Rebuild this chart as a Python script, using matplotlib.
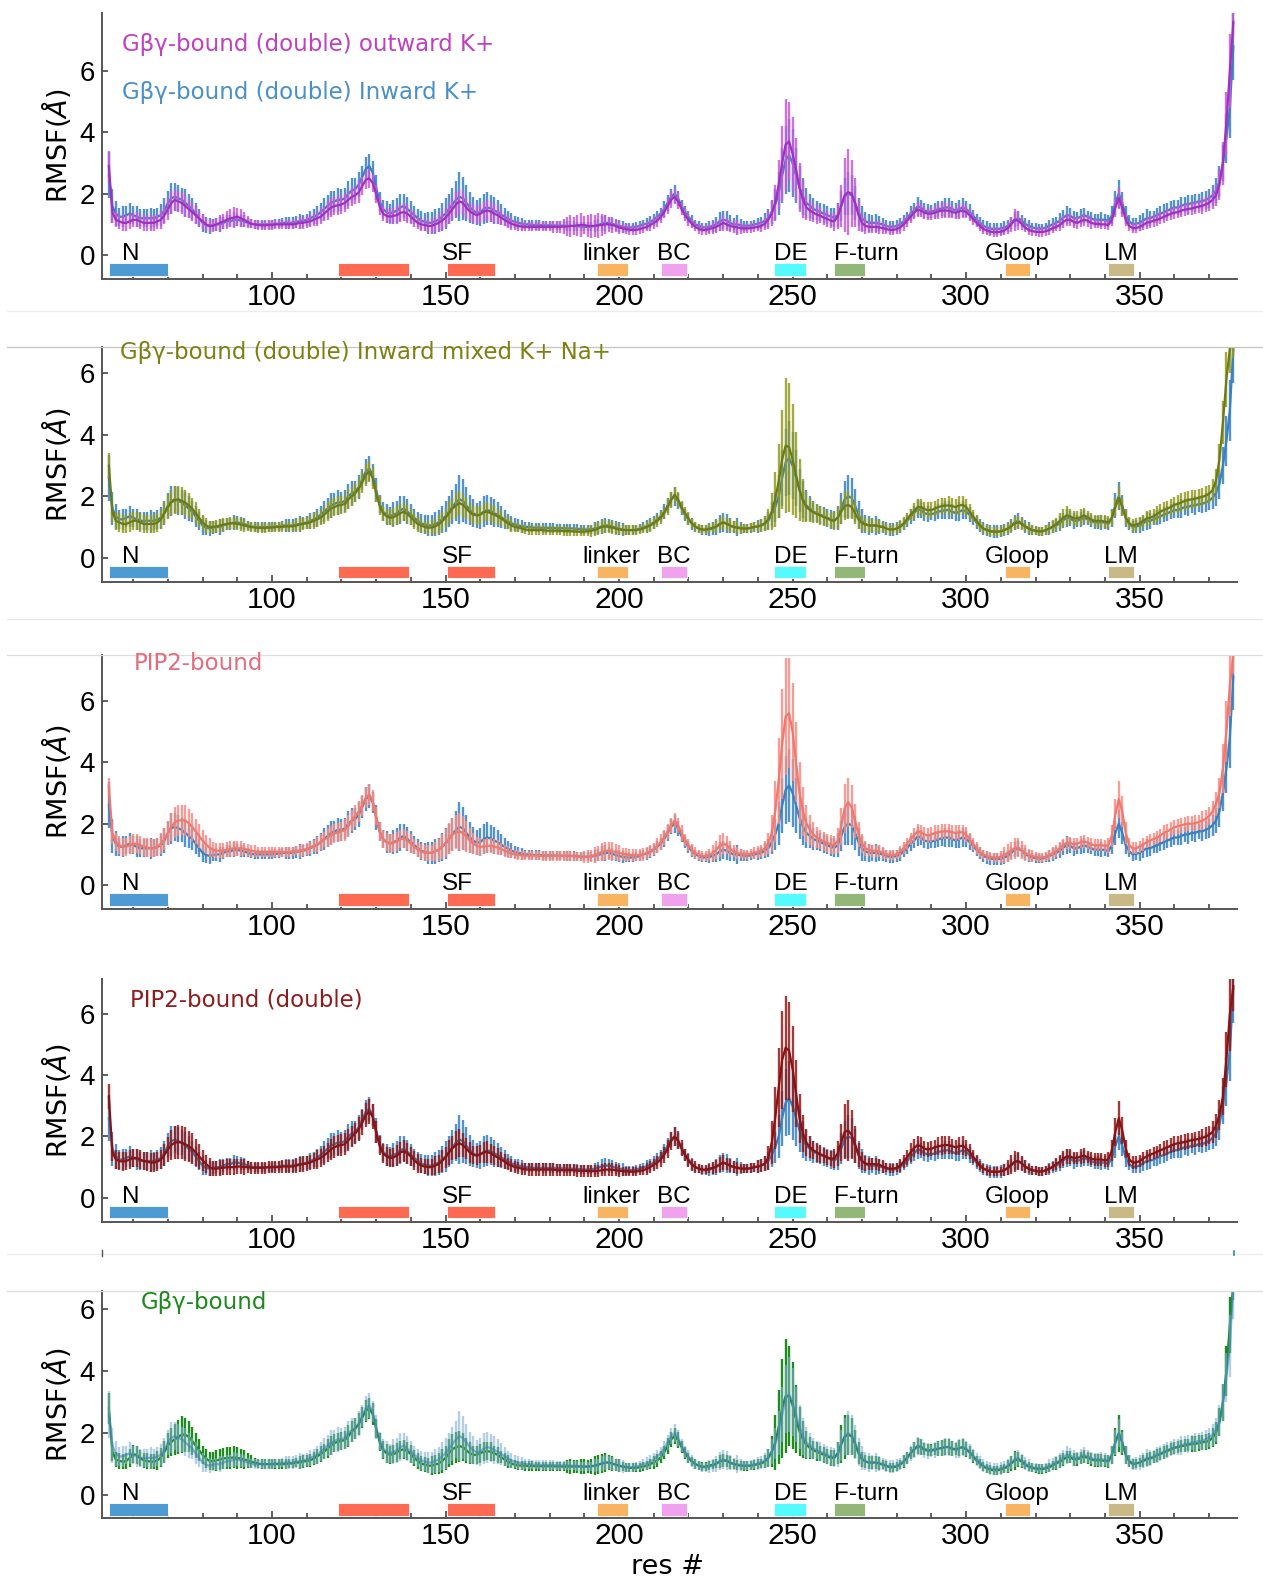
import numpy as np
import matplotlib
matplotlib.use('Agg')
import matplotlib.pyplot as plt
from matplotlib.lines import Line2D

plt.rcParams['font.family'] = ['DejaVu Sans']

W, H = 1263, 1580
RES_START = 53

# ---------------- data (RMSF mean and error per residue, starting at residue 53) ----------------
inward_k = [
 2.6,1.6,1.35,1.25,1.25,1.3,1.35,1.3,1.25,1.2,
 1.2,1.2,1.2,1.2,1.25,1.3,1.45,1.7,1.85,1.9,
 1.85,1.8,1.7,1.6,1.5,1.35,1.2,1.05,0.98,0.95,
 0.98,1.0,1.0,1.05,1.1,1.1,1.15,1.15,1.12,1.1,
 1.05,1.02,1.0,1.0,1.0,1.0,1.0,1.0,1.02,1.02,
 1.05,1.05,1.05,1.05,1.08,1.1,1.12,1.15,1.2,1.25,
 1.3,1.4,1.5,1.6,1.7,1.75,1.8,1.8,1.85,2.0,
 2.1,2.15,2.3,2.55,2.8,2.9,2.7,2.2,1.75,1.5,
 1.4,1.35,1.4,1.45,1.55,1.6,1.5,1.4,1.3,1.2,
 1.12,1.08,1.05,1.05,1.1,1.15,1.25,1.35,1.5,1.65,
 1.8,1.9,1.85,1.7,1.55,1.45,1.38,1.4,1.5,1.55,
 1.52,1.45,1.4,1.32,1.25,1.18,1.12,1.08,1.05,1.02,
 1.0,1.0,0.98,0.98,0.98,0.97,0.97,0.97,0.97,0.96,
 0.96,0.96,0.95,0.95,0.95,0.94,0.93,0.92,0.92,0.93,
 0.95,0.98,1.02,1.05,1.05,1.02,0.98,0.95,0.92,0.9,
 0.9,0.9,0.92,0.95,1.0,1.02,1.08,1.15,1.25,1.35,
 1.5,1.7,1.9,2.0,1.85,1.6,1.4,1.25,1.1,1.0,
 0.95,0.9,0.9,0.92,0.95,1.0,1.1,1.15,1.12,1.05,
 1.0,1.0,0.97,0.95,0.95,0.97,1.0,1.02,1.05,1.12,
 1.2,1.4,1.65,2.0,2.6,3.1,3.25,3.0,2.6,2.2,
 1.9,1.7,1.6,1.5,1.45,1.4,1.35,1.3,1.25,1.22,
 1.3,1.6,1.9,2.0,1.95,1.7,1.4,1.2,1.1,1.05,
 1.05,1.05,1.02,1.0,0.95,0.92,0.92,0.95,1.0,1.1,
 1.2,1.35,1.45,1.58,1.55,1.45,1.42,1.42,1.45,1.5,
 1.52,1.55,1.55,1.5,1.45,1.5,1.55,1.5,1.4,1.28,
 1.15,1.05,0.95,0.9,0.86,0.85,0.85,0.86,0.9,0.95,
 1.05,1.15,1.2,1.12,1.02,0.95,0.9,0.88,0.86,0.86,
 0.9,0.95,1.0,1.05,1.12,1.22,1.3,1.28,1.2,1.2,
 1.25,1.3,1.25,1.2,1.15,1.15,1.15,1.15,1.1,1.3,
 1.7,2.0,1.7,1.3,1.1,1.0,1.02,1.05,1.12,1.2,
 1.2,1.25,1.3,1.35,1.4,1.45,1.5,1.55,1.55,1.6,
 1.65,1.65,1.7,1.7,1.75,1.75,1.8,1.85,1.95,2.1,
 2.4,3.0,3.8,4.8,6.8]
inward_k_err = [
 0.75,0.55,0.4,0.3,0.35,0.3,0.35,0.3,0.35,0.3,
 0.3,0.3,0.35,0.3,0.3,0.35,0.4,0.4,0.5,0.45,
 0.45,0.4,0.45,0.4,0.35,0.35,0.3,0.3,0.25,0.25,
 0.2,0.2,0.25,0.2,0.2,0.2,0.25,0.2,0.2,0.2,
 0.15,0.15,0.15,0.15,0.15,0.15,0.15,0.15,0.15,0.15,
 0.15,0.2,0.2,0.2,0.2,0.25,0.2,0.2,0.25,0.25,
 0.3,0.3,0.35,0.35,0.4,0.35,0.4,0.35,0.35,0.4,
 0.4,0.35,0.4,0.35,0.4,0.4,0.35,0.4,0.3,0.3,
 0.35,0.3,0.4,0.4,0.45,0.4,0.4,0.35,0.3,0.3,
 0.3,0.3,0.35,0.35,0.4,0.4,0.45,0.5,0.5,0.55,
 0.6,0.8,0.7,0.6,0.5,0.45,0.4,0.45,0.5,0.5,
 0.45,0.45,0.4,0.35,0.3,0.25,0.25,0.2,0.2,0.2,
 0.15,0.15,0.15,0.15,0.15,0.15,0.15,0.15,0.15,0.15,
 0.15,0.15,0.15,0.15,0.15,0.15,0.15,0.15,0.15,0.15,
 0.2,0.2,0.25,0.25,0.2,0.2,0.2,0.2,0.2,0.15,
 0.15,0.15,0.15,0.15,0.15,0.2,0.2,0.2,0.2,0.2,
 0.25,0.25,0.25,0.3,0.25,0.2,0.2,0.2,0.2,0.15,
 0.15,0.15,0.15,0.2,0.2,0.25,0.3,0.3,0.3,0.25,
 0.2,0.3,0.2,0.15,0.15,0.15,0.15,0.2,0.2,0.25,
 0.3,0.4,0.5,0.7,0.9,1.1,1.2,1.1,0.9,0.7,
 0.6,0.5,0.4,0.35,0.3,0.3,0.3,0.3,0.3,0.3,
 0.4,0.5,0.6,0.7,0.65,0.55,0.45,0.4,0.3,0.3,
 0.25,0.3,0.25,0.2,0.2,0.2,0.2,0.2,0.2,0.2,
 0.2,0.25,0.25,0.3,0.25,0.25,0.25,0.2,0.25,0.25,
 0.25,0.3,0.3,0.25,0.25,0.3,0.3,0.25,0.25,0.2,
 0.2,0.2,0.2,0.2,0.2,0.2,0.2,0.2,0.2,0.2,
 0.2,0.25,0.25,0.2,0.2,0.2,0.15,0.15,0.15,0.15,
 0.15,0.2,0.2,0.2,0.25,0.25,0.3,0.25,0.25,0.2,
 0.25,0.25,0.2,0.2,0.2,0.2,0.25,0.2,0.2,0.3,
 0.4,0.45,0.35,0.3,0.2,0.2,0.2,0.25,0.25,0.3,
 0.25,0.2,0.25,0.25,0.25,0.25,0.25,0.25,0.25,0.3,
 0.25,0.3,0.25,0.3,0.25,0.3,0.3,0.3,0.35,0.4,
 0.5,0.6,0.8,1.0,1.1]

outward_k = [
 2.9,1.4,1.15,1.1,1.05,1.05,1.1,1.15,1.15,1.1,
 1.05,1.05,1.05,1.05,1.1,1.15,1.3,1.5,1.7,1.8,
 1.75,1.7,1.6,1.5,1.4,1.3,1.2,1.1,1.0,0.95,
 0.95,1.0,1.05,1.1,1.15,1.2,1.22,1.25,1.2,1.15,
 1.08,1.02,1.0,0.98,0.97,0.97,0.98,0.98,1.0,1.0,
 1.0,1.0,1.0,1.0,1.02,1.05,1.05,1.08,1.1,1.15,
 1.2,1.25,1.35,1.45,1.55,1.6,1.62,1.65,1.7,1.8,
 1.9,1.95,2.05,2.25,2.45,2.5,2.35,2.0,1.6,1.35,
 1.28,1.25,1.28,1.3,1.38,1.4,1.35,1.25,1.15,1.05,
 1.0,0.98,0.95,0.95,1.0,1.05,1.12,1.22,1.35,1.5,
 1.65,1.75,1.7,1.55,1.42,1.35,1.3,1.35,1.42,1.45,
 1.42,1.35,1.3,1.22,1.15,1.08,1.02,0.98,0.95,0.93,
 0.92,0.92,0.92,0.92,0.92,0.92,0.92,0.92,0.92,0.92,
 0.92,0.93,0.93,0.95,0.95,0.97,0.98,0.98,0.95,0.95,
 0.95,0.97,0.98,1.0,1.0,0.98,0.95,0.9,0.87,0.85,
 0.82,0.82,0.82,0.85,0.88,0.92,0.98,1.05,1.12,1.25,
 1.4,1.6,1.8,1.9,1.75,1.5,1.3,1.15,1.02,0.92,
 0.85,0.82,0.82,0.85,0.88,0.92,0.98,1.05,1.0,0.95,
 0.92,0.9,0.88,0.87,0.87,0.88,0.9,0.92,0.95,1.02,
 1.15,1.35,1.7,2.3,3.0,3.6,3.7,3.3,2.8,2.2,
 1.8,1.55,1.45,1.38,1.32,1.28,1.22,1.18,1.12,1.1,
 1.25,1.6,1.95,2.05,2.0,1.7,1.3,1.05,0.95,0.92,
 0.92,0.92,0.9,0.88,0.85,0.82,0.82,0.85,0.9,1.0,
 1.12,1.25,1.38,1.48,1.45,1.38,1.35,1.35,1.38,1.42,
 1.45,1.45,1.45,1.4,1.38,1.42,1.45,1.4,1.3,1.18,
 1.05,0.95,0.85,0.8,0.76,0.75,0.75,0.76,0.8,0.88,
 1.0,1.15,1.12,1.02,0.9,0.82,0.78,0.76,0.75,0.75,
 0.78,0.82,0.88,0.92,0.98,1.08,1.15,1.15,1.08,1.05,
 1.1,1.15,1.12,1.05,1.02,1.02,1.0,1.0,0.98,1.15,
 1.55,1.85,1.55,1.15,0.95,0.88,0.88,0.92,0.98,1.05,
 1.08,1.12,1.15,1.2,1.25,1.3,1.35,1.38,1.4,1.45,
 1.48,1.5,1.52,1.55,1.58,1.6,1.65,1.7,1.8,1.95,
 2.3,3.0,4.3,6.0,7.6]
outward_k_err = [
 0.5,0.35,0.25,0.25,0.25,0.25,0.25,0.25,0.25,0.25,
 0.25,0.25,0.25,0.25,0.25,0.3,0.3,0.35,0.35,0.35,
 0.35,0.35,0.35,0.3,0.3,0.3,0.25,0.25,0.2,0.2,
 0.2,0.2,0.25,0.25,0.3,0.3,0.35,0.3,0.3,0.25,
 0.2,0.15,0.15,0.15,0.15,0.15,0.15,0.15,0.15,0.15,
 0.15,0.15,0.15,0.15,0.15,0.2,0.2,0.2,0.2,0.2,
 0.25,0.25,0.25,0.3,0.3,0.3,0.3,0.3,0.3,0.3,
 0.3,0.3,0.35,0.3,0.3,0.3,0.3,0.3,0.3,0.25,
 0.25,0.25,0.25,0.3,0.3,0.3,0.3,0.25,0.25,0.2,
 0.2,0.2,0.2,0.25,0.25,0.3,0.3,0.3,0.35,0.35,
 0.4,0.4,0.4,0.35,0.3,0.3,0.3,0.3,0.3,0.35,
 0.35,0.3,0.3,0.25,0.2,0.2,0.2,0.15,0.15,0.15,
 0.15,0.15,0.15,0.15,0.15,0.15,0.15,0.15,0.2,0.2,
 0.2,0.25,0.3,0.35,0.3,0.35,0.4,0.3,0.35,0.4,
 0.35,0.4,0.35,0.3,0.25,0.25,0.2,0.2,0.15,0.15,
 0.15,0.15,0.15,0.15,0.15,0.15,0.2,0.2,0.2,0.2,
 0.2,0.25,0.25,0.25,0.25,0.2,0.2,0.2,0.15,0.15,
 0.15,0.15,0.15,0.15,0.2,0.2,0.2,0.25,0.2,0.2,
 0.2,0.25,0.2,0.15,0.15,0.15,0.15,0.15,0.2,0.2,
 0.3,0.4,0.6,0.8,1.2,1.5,1.3,1.2,1.0,0.8,
 0.6,0.4,0.35,0.3,0.3,0.25,0.25,0.25,0.25,0.3,
 0.4,0.7,1.2,1.4,1.1,0.8,0.5,0.3,0.25,0.2,
 0.2,0.2,0.2,0.2,0.15,0.15,0.15,0.15,0.2,0.2,
 0.2,0.2,0.2,0.25,0.2,0.2,0.2,0.2,0.2,0.25,
 0.25,0.25,0.25,0.2,0.2,0.25,0.25,0.2,0.2,0.2,
 0.15,0.15,0.15,0.15,0.15,0.15,0.15,0.15,0.15,0.2,
 0.25,0.35,0.3,0.2,0.15,0.15,0.15,0.15,0.15,0.15,
 0.15,0.15,0.15,0.15,0.2,0.2,0.2,0.2,0.2,0.2,
 0.2,0.2,0.2,0.2,0.15,0.15,0.15,0.15,0.15,0.2,
 0.3,0.35,0.3,0.2,0.15,0.15,0.15,0.15,0.15,0.2,
 0.2,0.2,0.2,0.2,0.2,0.2,0.2,0.2,0.2,0.2,
 0.2,0.2,0.2,0.2,0.2,0.25,0.25,0.25,0.3,0.35,
 0.5,0.7,1.0,1.2,0.5]

mixed_kna = [
 3.0,1.5,1.2,1.15,1.1,1.1,1.15,1.2,1.2,1.15,
 1.1,1.1,1.1,1.1,1.15,1.25,1.45,1.65,1.8,1.88,
 1.9,1.85,1.8,1.7,1.6,1.45,1.3,1.15,1.05,1.0,
 1.0,1.02,1.05,1.08,1.1,1.12,1.12,1.1,1.08,1.05,
 1.02,1.0,0.98,0.97,0.97,0.97,0.98,0.98,1.0,1.0,
 1.0,1.02,1.02,1.02,1.05,1.08,1.1,1.12,1.15,1.2,
 1.25,1.3,1.4,1.5,1.6,1.65,1.7,1.72,1.75,1.9,
 2.0,2.1,2.25,2.45,2.7,2.8,2.6,2.1,1.7,1.45,
 1.35,1.3,1.32,1.38,1.45,1.5,1.42,1.32,1.2,1.1,
 1.05,1.0,0.98,0.98,1.02,1.08,1.18,1.3,1.45,1.6,
 1.7,1.78,1.72,1.6,1.48,1.4,1.38,1.4,1.48,1.5,
 1.45,1.4,1.35,1.28,1.2,1.12,1.05,1.0,0.98,0.95,
 0.92,0.9,0.9,0.9,0.9,0.9,0.88,0.88,0.88,0.88,
 0.88,0.87,0.87,0.86,0.86,0.85,0.85,0.85,0.86,0.88,
 0.9,0.95,1.0,1.02,1.0,0.98,0.95,0.92,0.9,0.9,
 0.9,0.9,0.9,0.92,0.95,1.0,1.05,1.12,1.2,1.3,
 1.45,1.65,1.88,2.05,1.9,1.65,1.45,1.28,1.12,1.02,
 0.95,0.92,0.92,0.95,0.98,1.02,1.1,1.15,1.1,1.05,
 1.0,0.98,0.95,0.95,0.95,0.98,1.0,1.02,1.05,1.12,
 1.25,1.5,1.9,2.5,3.2,3.65,3.6,3.2,2.7,2.2,
 1.85,1.65,1.55,1.48,1.42,1.38,1.32,1.28,1.22,1.2,
 1.3,1.5,1.68,1.72,1.65,1.45,1.25,1.12,1.08,1.05,
 1.05,1.05,1.02,1.0,0.95,0.92,0.92,0.95,1.02,1.12,
 1.25,1.4,1.52,1.65,1.65,1.58,1.55,1.55,1.6,1.65,
 1.68,1.7,1.7,1.68,1.65,1.7,1.72,1.65,1.5,1.35,
 1.2,1.05,0.95,0.9,0.86,0.85,0.85,0.86,0.9,0.95,
 1.02,1.12,1.15,1.1,1.02,0.95,0.9,0.88,0.86,0.86,
 0.9,0.95,1.02,1.1,1.2,1.3,1.38,1.35,1.28,1.28,
 1.32,1.38,1.32,1.25,1.2,1.2,1.2,1.18,1.15,1.3,
 1.65,1.95,1.65,1.3,1.12,1.05,1.08,1.12,1.2,1.28,
 1.3,1.35,1.42,1.5,1.55,1.6,1.65,1.72,1.75,1.8,
 1.85,1.88,1.9,1.92,1.95,1.98,2.02,2.08,2.2,2.5,
 3.2,4.4,5.8,6.8,7.0]
mixed_kna_err = [
 0.4,0.35,0.3,0.3,0.3,0.3,0.3,0.3,0.3,0.3,
 0.3,0.3,0.3,0.3,0.3,0.3,0.35,0.4,0.4,0.45,
 0.45,0.45,0.4,0.4,0.35,0.35,0.3,0.25,0.25,0.2,
 0.2,0.2,0.2,0.2,0.2,0.2,0.2,0.2,0.2,0.2,
 0.15,0.15,0.15,0.15,0.15,0.15,0.15,0.15,0.15,0.15,
 0.15,0.15,0.15,0.15,0.2,0.2,0.2,0.2,0.2,0.25,
 0.25,0.25,0.3,0.3,0.3,0.3,0.3,0.3,0.3,0.3,
 0.3,0.3,0.3,0.35,0.35,0.35,0.35,0.3,0.3,0.25,
 0.25,0.25,0.3,0.3,0.3,0.3,0.3,0.25,0.25,0.25,
 0.2,0.2,0.2,0.25,0.25,0.3,0.3,0.3,0.35,0.35,
 0.4,0.4,0.4,0.35,0.3,0.3,0.3,0.3,0.3,0.3,
 0.3,0.3,0.25,0.25,0.2,0.2,0.2,0.15,0.15,0.15,
 0.15,0.15,0.15,0.15,0.15,0.15,0.15,0.15,0.15,0.15,
 0.15,0.15,0.15,0.15,0.15,0.15,0.15,0.15,0.15,0.2,
 0.2,0.2,0.2,0.2,0.2,0.2,0.2,0.15,0.15,0.15,
 0.15,0.15,0.15,0.15,0.15,0.15,0.2,0.2,0.2,0.2,
 0.2,0.25,0.25,0.25,0.25,0.2,0.2,0.2,0.15,0.15,
 0.15,0.15,0.15,0.15,0.15,0.2,0.2,0.2,0.2,0.2,
 0.2,0.2,0.15,0.15,0.15,0.15,0.15,0.15,0.2,0.25,
 0.35,0.6,0.9,1.2,1.6,2.2,2.1,1.8,1.4,1.0,
 0.7,0.5,0.4,0.35,0.3,0.3,0.3,0.25,0.25,0.3,
 0.35,0.4,0.45,0.45,0.4,0.35,0.3,0.25,0.2,0.2,
 0.2,0.2,0.2,0.15,0.15,0.15,0.15,0.15,0.2,0.2,
 0.2,0.2,0.25,0.25,0.25,0.25,0.25,0.25,0.25,0.25,
 0.25,0.25,0.3,0.25,0.25,0.3,0.3,0.25,0.25,0.2,
 0.2,0.15,0.15,0.15,0.15,0.15,0.15,0.15,0.15,0.15,
 0.2,0.2,0.2,0.2,0.15,0.15,0.15,0.15,0.15,0.15,
 0.15,0.15,0.2,0.2,0.25,0.3,0.3,0.25,0.25,0.25,
 0.25,0.25,0.2,0.2,0.2,0.2,0.2,0.2,0.2,0.25,
 0.3,0.35,0.3,0.25,0.2,0.2,0.2,0.2,0.2,0.25,
 0.25,0.25,0.25,0.25,0.25,0.25,0.25,0.25,0.3,0.3,
 0.3,0.3,0.3,0.3,0.3,0.3,0.3,0.3,0.35,0.4,
 0.5,0.7,0.9,0.8,0.5]

pip2 = [
 3.2,1.7,1.4,1.3,1.25,1.25,1.3,1.35,1.35,1.3,
 1.25,1.22,1.2,1.2,1.25,1.35,1.5,1.7,1.9,2.05,
 2.1,2.12,2.1,2.02,1.9,1.75,1.6,1.45,1.32,1.22,
 1.15,1.12,1.12,1.12,1.15,1.18,1.2,1.2,1.2,1.18,
 1.15,1.12,1.1,1.08,1.08,1.08,1.08,1.08,1.08,1.08,
 1.08,1.08,1.08,1.1,1.12,1.12,1.15,1.18,1.22,1.28,
 1.32,1.4,1.48,1.55,1.62,1.68,1.72,1.75,1.8,1.92,
 2.1,2.25,2.4,2.6,2.85,2.95,2.75,2.25,1.75,1.5,
 1.4,1.35,1.38,1.42,1.5,1.52,1.45,1.35,1.25,1.15,
 1.1,1.05,1.05,1.05,1.1,1.15,1.25,1.38,1.52,1.65,
 1.72,1.75,1.7,1.58,1.45,1.35,1.28,1.25,1.25,1.28,
 1.28,1.25,1.22,1.18,1.12,1.08,1.02,1.0,0.98,0.97,
 0.96,0.96,0.96,0.96,0.96,0.95,0.95,0.95,0.95,0.95,
 0.95,0.95,0.95,0.95,0.94,0.93,0.92,0.92,0.93,0.95,
 0.98,1.02,1.08,1.12,1.12,1.1,1.08,1.05,1.02,1.0,
 0.98,0.97,0.97,0.98,1.0,1.05,1.1,1.18,1.28,1.4,
 1.55,1.75,1.95,2.1,1.95,1.7,1.48,1.3,1.15,1.05,
 0.98,0.95,0.95,0.98,1.05,1.15,1.28,1.35,1.3,1.18,
 1.1,1.05,1.02,1.0,1.0,1.02,1.05,1.08,1.12,1.2,
 1.35,1.7,2.4,3.4,4.6,5.5,5.6,5.0,4.0,3.0,
 2.4,2.0,1.8,1.65,1.55,1.48,1.42,1.38,1.32,1.3,
 1.45,1.9,2.5,2.7,2.55,2.1,1.65,1.35,1.2,1.15,
 1.12,1.12,1.1,1.05,1.0,0.98,0.98,1.0,1.08,1.2,
 1.35,1.5,1.62,1.75,1.72,1.65,1.62,1.65,1.7,1.72,
 1.75,1.75,1.75,1.72,1.7,1.72,1.72,1.65,1.5,1.35,
 1.2,1.08,1.0,0.95,0.92,0.9,0.9,0.92,0.98,1.05,
 1.12,1.2,1.22,1.15,1.05,0.98,0.95,0.92,0.9,0.9,
 0.92,0.98,1.05,1.12,1.2,1.3,1.38,1.38,1.32,1.35,
 1.4,1.42,1.38,1.32,1.3,1.3,1.3,1.28,1.3,1.6,
 2.3,2.8,2.4,1.7,1.3,1.2,1.2,1.25,1.32,1.4,
 1.45,1.5,1.55,1.62,1.7,1.75,1.82,1.88,1.92,1.95,
 1.98,2.0,2.0,2.02,2.05,2.1,2.15,2.25,2.4,2.65,
 3.0,3.8,5.0,6.5,7.5]
pip2_err = [
 0.3,0.35,0.3,0.3,0.3,0.3,0.3,0.3,0.3,0.3,
 0.3,0.3,0.3,0.3,0.3,0.35,0.35,0.4,0.45,0.5,
 0.5,0.5,0.5,0.45,0.45,0.4,0.4,0.35,0.3,0.3,
 0.25,0.25,0.25,0.25,0.25,0.25,0.25,0.25,0.25,0.2,
 0.2,0.2,0.2,0.15,0.15,0.15,0.15,0.15,0.15,0.15,
 0.15,0.15,0.15,0.15,0.15,0.2,0.2,0.2,0.2,0.2,
 0.25,0.25,0.25,0.3,0.3,0.3,0.3,0.3,0.35,0.35,
 0.35,0.35,0.35,0.35,0.35,0.35,0.35,0.3,0.3,0.3,
 0.3,0.3,0.3,0.3,0.3,0.3,0.3,0.3,0.25,0.25,
 0.25,0.25,0.25,0.25,0.3,0.35,0.4,0.45,0.5,0.55,
 0.55,0.6,0.55,0.5,0.4,0.35,0.3,0.3,0.25,0.25,
 0.25,0.25,0.25,0.2,0.2,0.2,0.15,0.15,0.15,0.15,
 0.15,0.15,0.15,0.15,0.15,0.15,0.15,0.15,0.15,0.15,
 0.15,0.15,0.15,0.15,0.15,0.15,0.15,0.2,0.2,0.2,
 0.25,0.25,0.3,0.3,0.3,0.3,0.25,0.25,0.2,0.2,
 0.2,0.2,0.2,0.2,0.2,0.2,0.2,0.2,0.25,0.25,
 0.25,0.25,0.25,0.25,0.25,0.25,0.2,0.2,0.2,0.2,
 0.15,0.15,0.15,0.2,0.25,0.3,0.35,0.35,0.3,0.25,
 0.2,0.2,0.15,0.15,0.15,0.15,0.2,0.2,0.2,0.25,
 0.35,0.6,1.0,1.4,1.8,1.9,1.8,1.6,1.3,1.0,
 0.8,0.6,0.5,0.4,0.35,0.3,0.3,0.3,0.3,0.3,
 0.4,0.6,0.8,0.8,0.7,0.55,0.4,0.3,0.25,0.2,
 0.2,0.2,0.2,0.2,0.15,0.15,0.15,0.15,0.2,0.2,
 0.2,0.2,0.25,0.25,0.25,0.25,0.25,0.25,0.25,0.25,
 0.25,0.25,0.25,0.25,0.25,0.25,0.25,0.25,0.2,0.2,
 0.2,0.15,0.15,0.15,0.15,0.15,0.15,0.2,0.25,0.3,
 0.3,0.35,0.3,0.3,0.25,0.2,0.2,0.15,0.15,0.15,
 0.15,0.15,0.2,0.2,0.2,0.2,0.2,0.2,0.2,0.2,
 0.2,0.2,0.2,0.2,0.2,0.2,0.2,0.2,0.25,0.35,
 0.5,0.6,0.5,0.35,0.25,0.2,0.2,0.2,0.2,0.2,
 0.2,0.2,0.2,0.2,0.25,0.25,0.25,0.25,0.25,0.25,
 0.25,0.25,0.25,0.25,0.25,0.3,0.3,0.3,0.35,0.4,
 0.5,0.8,1.0,1.0,0.6]

pip2_double = [
 3.3,1.5,1.25,1.2,1.18,1.2,1.25,1.3,1.3,1.25,
 1.2,1.18,1.15,1.15,1.18,1.25,1.4,1.58,1.72,1.8,
 1.82,1.8,1.75,1.68,1.6,1.48,1.35,1.22,1.1,1.0,
 0.95,0.95,0.97,0.98,1.0,1.0,1.0,1.02,1.02,1.0,
 1.0,0.98,0.98,0.98,0.98,0.98,1.0,1.0,1.0,1.0,
 1.02,1.02,1.02,1.02,1.05,1.08,1.1,1.12,1.15,1.2,
 1.25,1.3,1.38,1.48,1.58,1.65,1.7,1.72,1.75,1.88,
 2.0,2.1,2.25,2.45,2.7,2.82,2.65,2.15,1.7,1.45,
 1.35,1.3,1.32,1.38,1.48,1.52,1.45,1.35,1.22,1.12,
 1.05,1.02,1.0,1.0,1.05,1.1,1.2,1.32,1.48,1.62,
 1.72,1.78,1.72,1.6,1.48,1.4,1.38,1.42,1.48,1.5,
 1.45,1.38,1.32,1.25,1.18,1.1,1.05,1.0,0.98,0.95,
 0.93,0.92,0.92,0.92,0.92,0.92,0.92,0.92,0.92,0.9,
 0.9,0.9,0.9,0.9,0.9,0.88,0.88,0.88,0.87,0.87,
 0.87,0.88,0.9,0.92,0.92,0.92,0.9,0.88,0.87,0.86,
 0.85,0.85,0.86,0.88,0.9,0.95,1.0,1.08,1.15,1.25,
 1.4,1.6,1.85,2.0,1.88,1.62,1.4,1.22,1.08,1.0,
 0.95,0.92,0.92,0.95,0.98,1.02,1.08,1.15,1.1,1.05,
 1.0,0.98,0.95,0.95,0.95,0.97,1.0,1.02,1.05,1.12,
 1.3,1.8,2.6,3.6,4.5,4.9,4.8,4.2,3.4,2.6,
 2.1,1.8,1.65,1.55,1.48,1.42,1.38,1.32,1.28,1.28,
 1.45,1.8,2.15,2.2,2.05,1.75,1.4,1.2,1.12,1.1,
 1.1,1.1,1.08,1.02,0.98,0.95,0.95,0.98,1.05,1.18,
 1.32,1.48,1.62,1.72,1.68,1.6,1.58,1.6,1.65,1.68,
 1.7,1.72,1.72,1.68,1.65,1.68,1.7,1.62,1.5,1.35,
 1.2,1.05,0.95,0.9,0.86,0.85,0.85,0.86,0.9,0.98,
 1.08,1.18,1.2,1.12,1.02,0.95,0.9,0.88,0.86,0.86,
 0.9,0.95,1.02,1.1,1.18,1.28,1.35,1.35,1.3,1.3,
 1.35,1.38,1.32,1.28,1.25,1.25,1.25,1.22,1.25,1.55,
 2.15,2.6,2.2,1.6,1.25,1.15,1.15,1.2,1.28,1.35,
 1.4,1.45,1.5,1.55,1.6,1.65,1.7,1.75,1.78,1.8,
 1.82,1.85,1.88,1.9,1.92,1.95,2.0,2.05,2.15,2.35,
 2.7,3.3,4.5,6.0,6.9]
pip2_double_err = [
 0.4,0.3,0.3,0.3,0.3,0.3,0.3,0.3,0.3,0.3,
 0.3,0.3,0.3,0.3,0.3,0.3,0.35,0.4,0.5,0.55,
 0.55,0.55,0.55,0.5,0.5,0.45,0.4,0.35,0.3,0.3,
 0.25,0.25,0.25,0.25,0.25,0.25,0.25,0.25,0.25,0.25,
 0.2,0.2,0.2,0.2,0.2,0.2,0.2,0.2,0.2,0.2,
 0.2,0.2,0.2,0.2,0.25,0.25,0.25,0.25,0.25,0.25,
 0.3,0.3,0.3,0.3,0.35,0.35,0.35,0.35,0.35,0.35,
 0.35,0.35,0.4,0.4,0.4,0.4,0.4,0.35,0.3,0.3,
 0.3,0.3,0.3,0.35,0.35,0.35,0.35,0.3,0.3,0.3,
 0.25,0.25,0.25,0.25,0.3,0.3,0.35,0.35,0.4,0.4,
 0.45,0.45,0.4,0.35,0.35,0.3,0.3,0.3,0.35,0.35,
 0.3,0.3,0.3,0.25,0.25,0.2,0.2,0.2,0.2,0.2,
 0.2,0.2,0.2,0.2,0.2,0.2,0.2,0.2,0.2,0.2,
 0.2,0.2,0.2,0.2,0.2,0.2,0.2,0.2,0.2,0.2,
 0.2,0.2,0.2,0.2,0.2,0.2,0.2,0.2,0.15,0.15,
 0.15,0.15,0.15,0.15,0.15,0.2,0.2,0.2,0.2,0.25,
 0.25,0.3,0.3,0.3,0.3,0.25,0.2,0.2,0.2,0.2,
 0.15,0.15,0.15,0.15,0.2,0.2,0.25,0.25,0.2,0.2,
 0.2,0.2,0.15,0.15,0.15,0.15,0.15,0.2,0.2,0.25,
 0.4,0.7,1.0,1.3,1.6,1.7,1.6,1.4,1.1,0.8,
 0.6,0.45,0.35,0.3,0.3,0.3,0.25,0.25,0.25,0.3,
 0.4,0.6,0.9,1.0,0.8,0.6,0.4,0.3,0.25,0.2,
 0.2,0.2,0.2,0.2,0.15,0.15,0.15,0.15,0.2,0.2,
 0.25,0.3,0.3,0.3,0.3,0.25,0.25,0.25,0.25,0.3,
 0.3,0.3,0.3,0.25,0.25,0.3,0.3,0.25,0.25,0.2,
 0.2,0.15,0.15,0.15,0.15,0.15,0.15,0.15,0.2,0.25,
 0.3,0.35,0.3,0.25,0.2,0.15,0.15,0.15,0.15,0.15,
 0.15,0.15,0.15,0.2,0.2,0.25,0.25,0.25,0.2,0.2,
 0.25,0.25,0.2,0.2,0.2,0.2,0.2,0.2,0.25,0.35,
 0.45,0.55,0.45,0.3,0.2,0.2,0.2,0.2,0.2,0.2,
 0.2,0.2,0.2,0.2,0.25,0.25,0.25,0.25,0.25,0.25,
 0.25,0.25,0.25,0.25,0.25,0.3,0.3,0.3,0.35,0.4,
 0.5,0.6,0.9,1.2,0.8]

gbg = [
 2.8,1.4,1.15,1.1,1.08,1.1,1.2,1.32,1.3,1.2,
 1.12,1.1,1.08,1.08,1.12,1.22,1.4,1.6,1.72,1.8,
 1.88,1.95,1.95,1.88,1.75,1.6,1.45,1.3,1.18,1.1,
 1.1,1.12,1.15,1.18,1.2,1.2,1.22,1.2,1.18,1.15,
 1.12,1.08,1.05,1.02,1.0,1.0,1.0,1.0,1.0,1.0,
 1.0,1.0,1.02,1.02,1.05,1.05,1.08,1.1,1.12,1.18,
 1.25,1.32,1.4,1.5,1.6,1.68,1.72,1.75,1.78,1.9,
 2.05,2.15,2.3,2.5,2.72,2.8,2.62,2.15,1.72,1.45,
 1.35,1.3,1.32,1.38,1.45,1.48,1.42,1.32,1.2,1.1,
 1.02,0.98,0.95,0.95,0.98,1.02,1.1,1.2,1.35,1.48,
 1.55,1.58,1.55,1.45,1.35,1.3,1.3,1.35,1.4,1.42,
 1.4,1.35,1.3,1.22,1.15,1.08,1.02,0.98,0.96,0.95,
 0.94,0.94,0.94,0.93,0.93,0.93,0.93,0.93,0.93,0.92,
 0.92,0.92,0.92,0.92,0.92,0.92,0.92,0.92,0.92,0.93,
 0.95,0.98,1.02,1.05,1.05,1.02,0.98,0.95,0.92,0.9,
 0.88,0.88,0.88,0.9,0.92,0.95,1.0,1.05,1.12,1.22,
 1.38,1.58,1.8,1.9,1.78,1.55,1.35,1.2,1.08,1.0,
 0.95,0.92,0.92,0.95,0.98,1.02,1.08,1.12,1.1,1.05,
 1.0,0.97,0.95,0.94,0.94,0.95,0.97,1.0,1.02,1.08,
 1.2,1.4,1.7,2.2,2.8,3.2,3.2,2.9,2.45,2.05,
 1.8,1.62,1.52,1.45,1.4,1.35,1.3,1.25,1.2,1.2,
 1.35,1.65,1.88,1.95,1.9,1.65,1.35,1.15,1.08,1.05,
 1.05,1.05,1.02,0.98,0.94,0.9,0.9,0.92,0.98,1.08,
 1.2,1.35,1.48,1.58,1.55,1.48,1.45,1.45,1.48,1.5,
 1.52,1.55,1.55,1.5,1.48,1.52,1.55,1.48,1.38,1.25,
 1.12,1.02,0.92,0.86,0.82,0.8,0.8,0.82,0.86,0.92,
 1.02,1.12,1.15,1.08,0.98,0.92,0.88,0.85,0.84,0.84,
 0.86,0.9,0.96,1.02,1.08,1.15,1.22,1.22,1.15,1.15,
 1.2,1.25,1.2,1.15,1.12,1.12,1.12,1.1,1.08,1.3,
 1.7,2.0,1.7,1.3,1.1,1.0,1.02,1.05,1.1,1.15,
 1.18,1.22,1.28,1.32,1.38,1.42,1.48,1.52,1.55,1.58,
 1.6,1.62,1.65,1.65,1.68,1.7,1.72,1.75,1.85,2.0,
 2.35,3.0,4.0,5.5,6.8]
gbg_err = [
 0.5,0.3,0.25,0.25,0.25,0.25,0.3,0.3,0.3,0.25,
 0.25,0.25,0.25,0.25,0.3,0.3,0.35,0.4,0.45,0.5,
 0.55,0.6,0.55,0.5,0.45,0.4,0.35,0.3,0.3,0.3,
 0.3,0.35,0.35,0.35,0.35,0.35,0.35,0.35,0.3,0.3,
 0.25,0.2,0.15,0.15,0.15,0.15,0.15,0.15,0.15,0.15,
 0.15,0.15,0.15,0.15,0.15,0.2,0.2,0.2,0.2,0.2,
 0.25,0.25,0.25,0.3,0.3,0.3,0.3,0.3,0.3,0.35,
 0.35,0.35,0.35,0.35,0.35,0.35,0.35,0.3,0.3,0.3,
 0.3,0.3,0.3,0.3,0.3,0.3,0.3,0.3,0.25,0.25,
 0.25,0.25,0.25,0.3,0.3,0.35,0.4,0.4,0.45,0.5,
 0.5,0.5,0.45,0.4,0.35,0.3,0.3,0.3,0.3,0.3,
 0.3,0.25,0.25,0.2,0.2,0.2,0.15,0.15,0.15,0.15,
 0.15,0.15,0.15,0.15,0.15,0.15,0.15,0.15,0.15,0.15,
 0.15,0.15,0.2,0.25,0.2,0.2,0.25,0.25,0.2,0.25,
 0.3,0.3,0.3,0.3,0.25,0.25,0.2,0.2,0.15,0.15,
 0.15,0.15,0.15,0.15,0.15,0.15,0.15,0.2,0.2,0.2,
 0.2,0.25,0.25,0.25,0.25,0.2,0.2,0.15,0.15,0.15,
 0.15,0.15,0.15,0.15,0.15,0.15,0.2,0.2,0.2,0.2,
 0.15,0.15,0.15,0.15,0.15,0.15,0.15,0.15,0.15,0.2,
 0.3,0.5,0.9,1.2,1.6,1.85,1.6,1.4,1.1,0.8,
 0.6,0.45,0.35,0.3,0.3,0.25,0.25,0.25,0.25,0.25,
 0.35,0.6,0.7,0.65,0.6,0.45,0.35,0.25,0.2,0.2,
 0.2,0.2,0.2,0.15,0.15,0.15,0.15,0.15,0.15,0.2,
 0.2,0.2,0.25,0.25,0.25,0.2,0.2,0.2,0.2,0.25,
 0.25,0.25,0.25,0.25,0.2,0.25,0.25,0.25,0.2,0.2,
 0.15,0.15,0.15,0.15,0.15,0.15,0.15,0.15,0.15,0.2,
 0.25,0.3,0.25,0.2,0.15,0.15,0.15,0.15,0.15,0.15,
 0.15,0.15,0.15,0.2,0.2,0.2,0.2,0.2,0.2,0.2,
 0.2,0.2,0.2,0.2,0.2,0.2,0.2,0.2,0.2,0.3,
 0.45,0.6,0.4,0.3,0.2,0.15,0.15,0.15,0.2,0.2,
 0.2,0.2,0.2,0.2,0.2,0.2,0.2,0.2,0.2,0.2,
 0.2,0.2,0.25,0.25,0.25,0.25,0.25,0.25,0.3,0.35,
 0.45,0.6,0.8,0.9,0.5]

# region annotations (residue ranges)
region_names = ['N', '', 'SF', 'linker', 'BC', 'DE', 'F-turn', 'Gloop', 'LM']
region_start = [53, 119, 150.4, 193.7, 212.2, 244.7, 261.8, 311.2, 340.8]
region_end = [70, 139.5, 164.2, 202.6, 219.5, 254, 270.8, 318.4, 348.5]
region_colors = ['#4E9BD3', '#FF6A52', '#FF6A52', '#F9B462', '#F0A2EE',
                 '#55FAFF', '#93B679', '#F9B462', '#C9B986']
region_label_x = [56.8, None, 149, 189.5, 211, 244.7, 261.8, 305.5, 339.6]

x_ticks = [100, 150, 200, 250, 300, 350]
y_ticks = [0, 2, 4, 6]

# ---------------- layout ----------------
fig = plt.figure(figsize=(W / 100, H / 100), dpi=100)

def fx(px):
    return px / W

def fy(py):
    return 1 - py / H

AX_L, AX_R = 101.6, 1236.8
# (top px, bottom px, ymax, ymin)
panel_geom = [(12.7, 279.3, 7.9, -0.79), (347.3, 582.3, 6.85, -0.80),
              (655.0, 909.3, 7.5, -0.79), (979.3, 1222.3, 7.13, -0.80),
              (1290.7, 1518.3, 6.6, -0.75)]

BLUE_LINE = '#3A7FBE'
BLUE_ERR = '#4A8DC8'
TICK_FONT = 'Liberation Sans'

panels = [
    dict(other=(outward_k, outward_k_err), line='#A22EC2', err='#C75AD6',
         labels=[('Gβγ-bound (double) outward K+', '#C040C0', 122, 45),
                 ('Gβγ-bound (double) Inward K+', '#4A90C8', 122, 93)]),
    dict(other=(mixed_kna, mixed_kna_err), line='#6E7A14', err='#949A1E',
         labels=[('Gβγ-bound (double) Inward mixed K+ Na+', '#7E8012', 120, 352)]),
    dict(other=(pip2, pip2_err), line='#F2776C', err='#F48C84',
         labels=[('PIP2-bound', '#E56B7D', 134, 663)]),
    dict(other=(pip2_double, pip2_double_err), line='#8B1212', err='#8E1A1A',
         labels=[('PIP2-bound (double)', '#8E1C1C', 130, 1000)]),
    dict(other=(gbg, gbg_err), line='#1A8A1A', err='#1E8C1E', blue_on_top=True,
         labels=[('Gβγ-bound', '#1A8A1A', 140.6, 1303)]),
]

def draw_series(ax, vals, errs, lc, ec, alpha=1.0, ealpha=1.0, z=2):
    n = min(len(vals), len(errs))
    x = RES_START + np.arange(n)
    y = np.array(vals[:n], dtype=float)
    e = np.array(errs[:n], dtype=float)
    ax.vlines(x, y - e, y + e, colors=ec, lw=1.7, alpha=ealpha, zorder=z)
    ax.plot(x, y, '-', color=lc, lw=1.6, alpha=alpha, zorder=z + 0.5)

for i, (geom, p) in enumerate(zip(panel_geom, panels)):
    top, bot, ymax, ymin = geom
    ax = fig.add_axes([fx(AX_L), fy(bot), fx(AX_R - AX_L), (bot - top) / H])
    ax.set_xlim(50.9, 378)
    ax.set_ylim(ymin, ymax)
    ov, oe = p['other']
    if p.get('blue_on_top'):
        draw_series(ax, ov, oe, p['line'], p['err'], z=2)
        draw_series(ax, inward_k, inward_k_err, BLUE_LINE, '#7FAEDA',
                    alpha=0.55, ealpha=0.6, z=3)
    else:
        draw_series(ax, inward_k, inward_k_err, BLUE_LINE, BLUE_ERR, ealpha=0.95, z=2)
        draw_series(ax, ov, oe, p['line'], p['err'], ealpha=0.85, z=3)

    # region bars and labels
    widths = [e - s for s, e in zip(region_start, region_end)]
    ax.barh([-0.47] * len(region_start), widths, left=region_start, height=0.40,
            color=region_colors, edgecolor='white', linewidth=0.6, zorder=4)
    for name, lx in zip(region_names, region_label_x):
        if name and lx is not None:
            ax.text(lx, -0.16, name, fontsize=17.5, family=TICK_FONT,
                    ha='left', va='baseline', color='black', zorder=5)

    ax.set_xticks(x_ticks)
    ax.set_xticklabels([str(t) for t in x_ticks], family=TICK_FONT, fontsize=21.5)
    ax.set_xticks(np.arange(60, 378, 10), minor=True)
    ax.set_yticks(y_ticks)
    ax.set_yticklabels([str(t) for t in y_ticks], family=TICK_FONT, fontsize=20)
    ax.tick_params(axis='both', which='both', direction='in', colors='#333333',
                   labelcolor='black', width=1.1)
    ax.tick_params(axis='x', which='major', length=5, pad=2.5)
    ax.tick_params(axis='x', which='minor', length=3.5)
    ax.tick_params(axis='y', which='major', length=4, pad=4.5)
    for s in ['top', 'right']:
        ax.spines[s].set_visible(False)
    for s in ['left', 'bottom']:
        ax.spines[s].set_color('#555555')
        ax.spines[s].set_linewidth(1.4)

    fig.text(fx(56), fy((top + bot) / 2), r'RMSF($\AA$)', rotation=90,
             ha='center', va='center', fontsize=19.5)
    for txt, col, px, py in p['labels']:
        fig.text(fx(px), fy(py), txt, color=col, fontsize=16.5,
                 ha='left', va='center')

fig.text(fx(668), fy(1567), 'res #', ha='center', va='center', fontsize=19.5)

# faint borders between stacked panels
for yy, col in [(311, '#ececec'), (347, '#c4c4c4'), (619, '#e8e8e8'),
                (655, '#dddddd'), (1254, '#ececec'), (1291, '#dddddd')]:
    fig.add_artist(Line2D([fx(7), 1], [fy(yy), fy(yy)], color=col, lw=0.9))
fig.add_artist(Line2D([fx(101.6), fx(101.6)], [fy(1250), fy(1256)], color='#555555', lw=1.0))
fig.add_artist(Line2D([fx(1233.5), fx(1233.5)], [fy(1251), fy(1255)], color='#2a8a9a', lw=1.2))

fig.savefig('out.png', dpi=100)
